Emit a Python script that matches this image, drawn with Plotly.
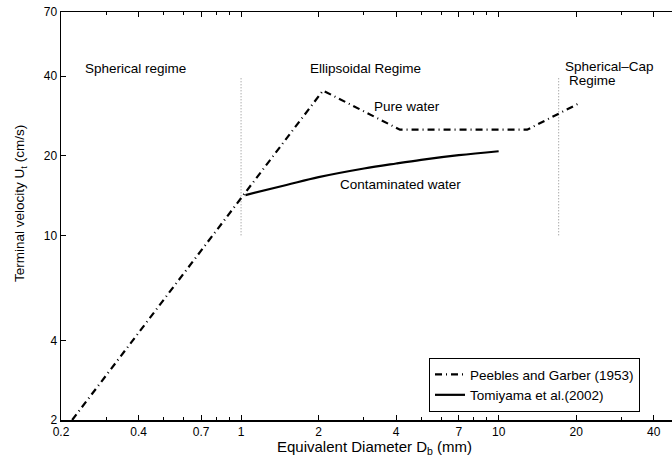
import plotly.graph_objects as go
import numpy as np

# Peebles and Garber (1953) - pure water
pg_d = [0.221, 2.08, 4.14, 12.9, 20.4]
pg_u = [2.0, 35.3, 25.1, 25.1, 31.5]

# Tomiyama et al. (2002) - contaminated water
tm_d = [1.04, 1.5, 2.0, 3.0, 4.0, 5.0, 7.0, 10.0]
tm_u = [14.2, 15.5, 16.6, 17.9, 18.7, 19.3, 20.1, 20.8]

# regime boundaries
bound1_d = [1.0, 1.0]
bound2_d = [17.1, 17.1]
bound_u = [10.0, 39.5]

x_ticks = [0.2, 0.4, 0.7, 1, 2, 4, 7, 10, 20, 40]
x_minor = [0.3, 0.5, 0.6, 0.8, 0.9, 3, 5, 6, 8, 9, 30]
y_ticks = [2, 4, 10, 20, 40, 70]

FAM = "Liberation Sans, Arial, sans-serif"

fig = go.Figure()
fig.add_trace(go.Scatter(x=bound1_d, y=bound_u, mode="lines",
                         line=dict(color="#888888", width=1, dash="1px,2px"), showlegend=False))
fig.add_trace(go.Scatter(x=bound2_d, y=bound_u, mode="lines",
                         line=dict(color="#888888", width=1, dash="1px,2px"), showlegend=False))
fig.add_trace(go.Scatter(x=pg_d, y=pg_u, mode="lines", name="Peebles and Garber (1953)",
                         line=dict(color="black", width=2.2, dash="7px,4px,1px,4px")))
fig.add_trace(go.Scatter(x=tm_d, y=tm_u, mode="lines", name="Tomiyama et al.(2002)",
                         line=dict(color="black", width=2.2, shape="spline")))

font = dict(family=FAM, size=13.5, color="black")
ann = [
    dict(x=np.log10(0.244), y=np.log10(42.9), text="Spherical regime"),
    dict(x=np.log10(1.82), y=np.log10(42.9), text="Ellipsoidal Regime"),
    dict(x=np.log10(17.8), y=np.log10(43.4), text="Spherical\u2013Cap"),
    dict(x=np.log10(18.4), y=np.log10(38.4), text="Regime"),
    dict(x=np.log10(3.23), y=np.log10(30.8), text="Pure water"),
    dict(x=np.log10(2.38), y=np.log10(15.6), text="Contaminated water"),
]
for a in ann:
    a.update(xref="x", yref="y", showarrow=False, font=font, xanchor="left", yanchor="middle")
# axis titles
ann.append(dict(xref="paper", yref="paper", x=(374.5 - 61) / 611, y=-(447 - 420) / 408,
                text="Equivalent Diameter D<sub>b</sub> (mm)", showarrow=False,
                xanchor="center", yanchor="middle", font=dict(family=FAM, size=15, color="black")))
ann.append(dict(xref="paper", yref="paper", x=-(61 - 20) / 611, y=(420 - 204) / 408,
                text="Terminal velocity U<sub>t</sub> (cm/s)", showarrow=False, textangle=-90,
                xanchor="center", yanchor="middle", font=dict(family=FAM, size=13.5, color="black")))
fig.update_layout(annotations=ann)

fig.update_layout(
    width=672, height=466,
    margin=dict(l=61, r=0, t=12, b=46),
    paper_bgcolor="white", plot_bgcolor="white",
    font=dict(family=FAM, size=12, color="black"),
    hovermode=False,
    legend=dict(x=(429 - 61) / 611, y=(420 - 358) / 408, xanchor="left", yanchor="top",
                bordercolor="black", borderwidth=1, bgcolor="white",
                font=dict(family=FAM, size=13.5),
                tracegroupgap=0, itemwidth=30),
)
fig.update_xaxes(
    type="log", range=[np.log10(0.2), np.log10(0.2) + 611 / 257.6], automargin=False,
    tickvals=x_ticks, ticktext=[str(v) for v in x_ticks],
    ticks="inside", ticklen=5, tickcolor="black",
    showline=True, linecolor="black", linewidth=1.5, mirror="ticks",
    showgrid=False, zeroline=False, showspikes=False,
    minor=dict(tickvals=x_minor, ticks="inside", ticklen=3, tickcolor="black", showgrid=False),
    tickfont=dict(size=12),
)
fig.update_yaxes(
    type="log", range=[np.log10(2), np.log10(70)], automargin=False,
    tickvals=y_ticks, ticktext=[str(v) for v in y_ticks],
    ticks="inside", ticklen=5, tickcolor="black",
    showline=True, linecolor="black", linewidth=1.5, mirror=False,
    showgrid=False, zeroline=False, showspikes=False,
    tickfont=dict(size=12),
)
fig.write_html("out.html", config={"displayModeBar": False, "staticPlot": True},
               post_script="document.body.style.margin='0px';document.body.style.overflow='hidden';")
